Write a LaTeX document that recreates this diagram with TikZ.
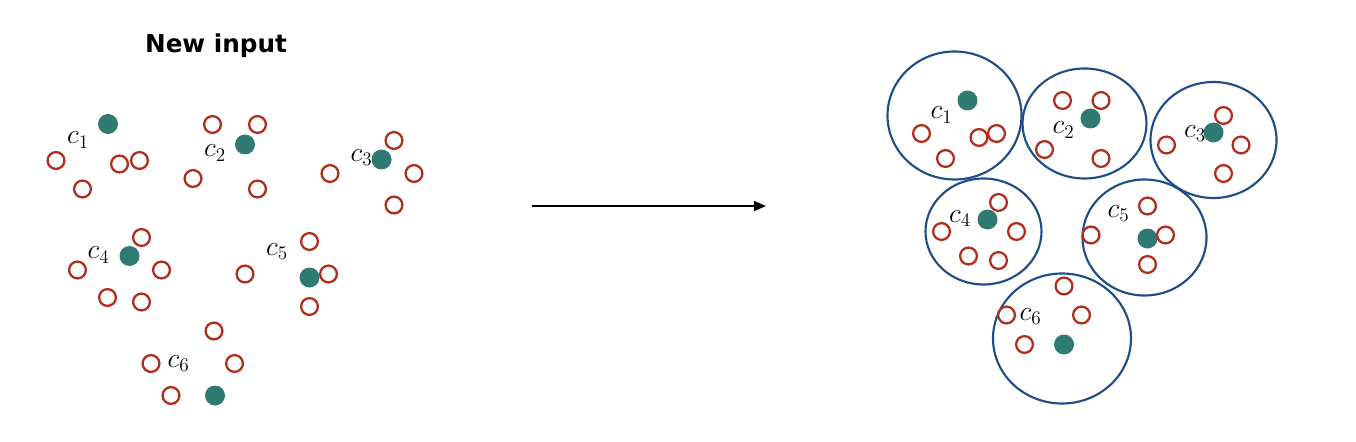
\documentclass[tikz,border=0pt]{standalone}
\usepackage{fontspec}
\newfontfamily\titlefont{DejaVu Sans}
\usetikzlibrary{arrows.meta}

\definecolor{centroidteal}{RGB}{47,122,114}
\definecolor{pointred}{RGB}{178,46,28}
\definecolor{clusterblue}{RGB}{30,78,136}

\tikzset{every picture/.style={line width=0.75pt}}
\tikzset{
  member/.style={circle,draw=pointred,line width=1.7pt,minimum size=12.6pt,inner sep=0pt},
  centroid/.style={circle,fill=centroidteal,minimum size=15pt,inner sep=0pt},
  clusterlabel/.style={inner sep=0pt,font=\fontsize{22}{26}\selectfont},
  cluster/.style={draw=clusterblue,line width=1.6pt},
}

\begin{document}
\begin{tikzpicture}[x=0.75pt,y=0.75pt,yscale=-1,xscale=1]
\useasboundingbox (0,0) rectangle (1356,442);

% Text Node
\node [font=\titlefont\bfseries\fontsize{18.5}{22}\selectfont] (title) at (216,46) {New input};

%Left: cluster 1
\node [centroid] (lc1) at (108,124) {};
\node [clusterlabel] (lc1lab) at (78,140) {$c_1$};
\node [member] (la1) at (56,160.5) {};
\node [member] (la2) at (82.5,189) {};
\node [member] (la3) at (119.5,164) {};
\node [member] (la4) at (139.5,160.5) {};
%Left: cluster 2
\node [centroid] (lc2) at (245,144.5) {};
\node [clusterlabel] (lc2lab) at (215,153) {$c_2$};
\node [member] (lb1) at (212.5,124.5) {};
\node [member] (lb2) at (257.5,124.5) {};
\node [member] (lb3) at (193,178.5) {};
\node [member] (lb4) at (257.5,189) {};
%Left: cluster 3
\node [centroid] (lc3) at (381.5,159.5) {};
\node [clusterlabel] (lc3lab) at (361.5,157.5) {$c_3$};
\node [member] (lcc1) at (394,140.5) {};
\node [member] (lcc2) at (330,173.5) {};
\node [member] (lcc3) at (414,173.5) {};
\node [member] (lcc4) at (394,205) {};
%Left: cluster 4
\node [centroid] (lc4) at (129.5,256) {};
\node [clusterlabel] (lc4lab) at (98.5,255) {$c_4$};
\node [member] (ld1) at (141.5,237.5) {};
\node [member] (ld2) at (77.5,270) {};
\node [member] (ld3) at (161.5,270) {};
\node [member] (ld4) at (107.5,297.5) {};
\node [member] (ld5) at (141.5,302) {};
%Left: cluster 5
\node [centroid] (lc5) at (309.5,277.5) {};
\node [clusterlabel] (lc5lab) at (277,251.5) {$c_5$};
\node [member] (le1) at (309.5,241.5) {};
\node [member] (le2) at (245,274) {};
\node [member] (le3) at (328.5,274) {};
\node [member] (le4) at (309.5,306.5) {};
%Left: cluster 6
\node [centroid] (lc6) at (215,395.5) {};
\node [clusterlabel] (lc6lab) at (178.5,363.5) {$c_6$};
\node [member] (lf1) at (214,331) {};
\node [member] (lf2) at (151,363.5) {};
\node [member] (lf3) at (234.5,363.5) {};
\node [member] (lf4) at (171,395.5) {};

%Straight Lines: arrow
\coordinate (arrowstart) at (532,206);
\coordinate (arrowend) at (766,206);
\draw [line width=1.2pt,-{Triangle[length=9pt,width=7.5pt]}] (arrowstart) -- (arrowend);

%Right: cluster 1
\draw [cluster] (954.5,115.5) ellipse (67 and 64);
\node [centroid] (rc1) at (967.5,100.5) {};
\node [clusterlabel] (rc1lab) at (941.5,115) {$c_1$};
\node [member] (ra1) at (921.5,133.5) {};
\node [member] (ra2) at (945.5,158.5) {};
\node [member] (ra3) at (979,137.5) {};
\node [member] (ra4) at (996.5,133.5) {};
%Right: cluster 2
\draw [cluster] (1084.5,123.5) ellipse (62 and 55);
\node [centroid] (rc2) at (1090.5,118.5) {};
\node [clusterlabel] (rc2lab) at (1063.5,130) {$c_2$};
\node [member] (rb1) at (1062.5,100.5) {};
\node [member] (rb2) at (1101,100.5) {};
\node [member] (rb3) at (1044.5,149.5) {};
\node [member] (rb4) at (1101,158.5) {};
%Right: cluster 3
\draw [cluster] (1213.5,140) ellipse (63 and 58);
\node [centroid] (rc3) at (1213.5,132.5) {};
\node [clusterlabel] (rc3lab) at (1195,133.5) {$c_3$};
\node [member] (rcc1) at (1223.5,115.5) {};
\node [member] (rcc2) at (1166.5,145) {};
\node [member] (rcc3) at (1241,145) {};
\node [member] (rcc4) at (1223.5,173.5) {};
%Right: cluster 4
\draw [cluster] (983.5,231.5) ellipse (58 and 53);
\node [centroid] (rc4) at (987.5,219.5) {};
\node [clusterlabel] (rc4lab) at (960,218.5) {$c_4$};
\node [member] (rd1) at (998.5,202.5) {};
\node [member] (rd2) at (941.5,231.5) {};
\node [member] (rd3) at (1016.5,231.5) {};
\node [member] (rd4) at (968.5,256) {};
\node [member] (rd5) at (998.5,260.5) {};
%Right: cluster 5
\draw [cluster] (1144.5,237.5) ellipse (62 and 58);
\node [centroid] (rc5) at (1147.5,238.5) {};
\node [clusterlabel] (rc5lab) at (1118.5,213.5) {$c_5$};
\node [member] (re1) at (1147.5,206) {};
\node [member] (re2) at (1091,235) {};
\node [member] (re3) at (1165.5,235) {};
\node [member] (re4) at (1147.5,264.5) {};
%Right: cluster 6
\draw [cluster] (1062,338.5) ellipse (69 and 65);
\node [centroid] (rc6) at (1064,344.5) {};
\node [clusterlabel] (rc6lab) at (1030.5,316.5) {$c_6$};
\node [member] (rf1) at (1064,286) {};
\node [member] (rf2) at (1006.5,315) {};
\node [member] (rf3) at (1081.5,315) {};
\node [member] (rf4) at (1024.5,344.5) {};

\end{tikzpicture}
\end{document}
